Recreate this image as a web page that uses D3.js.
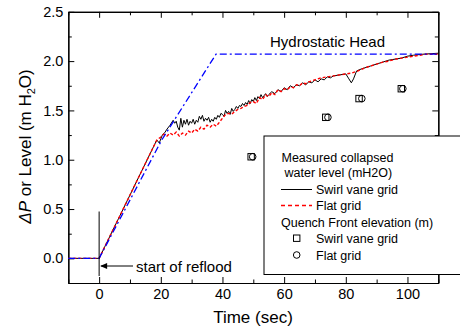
<!DOCTYPE html>
<html><head><meta charset="utf-8">
<script src="https://cdn.jsdelivr.net/npm/d3@7/dist/d3.min.js"></script>
<style>body{margin:0;background:#fff}svg{display:block;font-family:"Liberation Sans",Arial,sans-serif}</style>
</head><body><svg id="c" width="460" height="333"></svg>
<script>
// ---- data ----
const hydroT = [-10, 0, 20.3, 37.9, 110];
const hydroV = [0, 0, 1.2, 2.07, 2.07];

const swirlT = [-10,0,18.7,19.5,20.5,21.4,22,23,24,24.5,25,25.5,26,26.5,27,27.5,28,28.5,29,29.5,30,30.5,31,31.5,32,32.5,33,33.5,34,34.5,35,35.5,36,36.5,37,37.5,38,38.5,39,39.5,40,40.5,41,41.5,42,42.5,43,43.5,44,44.5,45,45.5,46,46.5,47,47.5,48,48.5,49,49.5,50,50.5,51,51.5,52,52.5,53,53.5,54,54.5,55,56,57,58,59,60,61,62,63,64,65,66,67,68,69,70,71,72,73,74,75,76,78,80,81,81.8,82.5,83.5,85,88,90,92,94,96,98,100,102,105,110];
const swirlV = [0,0,1.2,1.17,1.25,1.28,1.31,1.35,1.40,1.37,1.39,1.33,1.30,1.42,1.33,1.40,1.36,1.41,1.35,1.39,1.37,1.41,1.36,1.40,1.38,1.44,1.41,1.45,1.39,1.42,1.40,1.43,1.38,1.41,1.39,1.43,1.41,1.45,1.43,1.47,1.46,1.44,1.50,1.47,1.49,1.46,1.52,1.49,1.51,1.54,1.52,1.55,1.54,1.57,1.55,1.58,1.56,1.60,1.57,1.61,1.59,1.63,1.60,1.64,1.62,1.66,1.63,1.65,1.67,1.64,1.66,1.69,1.67,1.71,1.69,1.73,1.71,1.75,1.73,1.76,1.75,1.78,1.76,1.79,1.78,1.81,1.79,1.82,1.81,1.84,1.83,1.85,1.86,1.87,1.82,1.78,1.82,1.90,1.92,1.95,1.97,1.99,2.01,2.02,2.03,2.05,2.06,2.07,2.08];

const flatT = [-10,0,18.7,20,21,22,23,24,25,26,27,28,29,30,31,32,33,34,35,36,37,38,39,40,41,42,43,44,45,46,47,48,49,50,51,52,53,54,55,56,57,58,59,60,61,62,63,64,65,66,67,68,70,72,74,76,78,80,82,84,86,88,90,92,94,96,98,100,102,104,106,110];
const flatV = [0,0,1.2,1.23,1.26,1.24,1.27,1.25,1.28,1.24,1.27,1.25,1.29,1.27,1.31,1.29,1.33,1.31,1.35,1.33,1.36,1.34,1.38,1.42,1.46,1.47,1.46,1.49,1.51,1.52,1.54,1.55,1.58,1.59,1.57,1.63,1.61,1.66,1.64,1.68,1.66,1.71,1.69,1.72,1.71,1.74,1.73,1.76,1.75,1.78,1.77,1.79,1.81,1.83,1.84,1.85,1.86,1.87,1.88,1.90,1.93,1.95,1.97,1.99,2.00,2.02,2.03,2.04,2.05,2.06,2.07,2.07];

const qfSwirlT = [49.3, 73.5, 84.3, 98.0];
const qfFlatT  = [49.8, 74.2, 85.2, 98.5];
const qfV      = [1.03, 1.43, 1.62, 1.72];

const xMajor = [0, 20, 40, 60, 80, 100];
const yMajor = [0.0, 0.5, 1.0, 1.5, 2.0, 2.5];

// ---- layout ----
const svg = d3.select("#c");
const L = 68.3, R = 438.3, T = 11.8, B = 283;
const x = d3.scaleLinear().domain([-10, 110]).range([L, R]);
const y = d3.scaleLinear().domain([-0.25, 2.5]).range([B, T]);

const xMinor = d3.range(-10, 111, 10).filter(v => !xMajor.includes(v));
const yMinor = d3.range(-0.25, 2.51, 0.25).map(v => +v.toFixed(2)).filter(v => !yMajor.includes(v));

function styleAxis(g){ g.select(".domain").attr("stroke","#000").attr("stroke-width",1.2);
  g.selectAll(".tick line").attr("stroke","#000").attr("stroke-width",1);
  g.selectAll("text").attr("fill","#000").style("font-size","14.5px").style("font-family",'"Liberation Sans",Arial,sans-serif'); }

// bottom
svg.append("g").attr("transform",`translate(0,${B})`)
  .call(d3.axisBottom(x).tickValues(xMajor).tickFormat(d3.format("d")).tickSizeInner(-6).tickSizeOuter(0).tickPadding(6)).call(styleAxis);
svg.append("g").attr("transform",`translate(0,${B})`)
  .call(d3.axisBottom(x).tickValues(xMinor).tickFormat("").tickSizeInner(-3.5).tickSizeOuter(0)).call(styleAxis);
// top
svg.append("g").attr("transform",`translate(0,${T})`)
  .call(d3.axisTop(x).tickValues(xMajor).tickFormat("").tickSizeInner(-6).tickSizeOuter(0)).call(styleAxis);
svg.append("g").attr("transform",`translate(0,${T})`)
  .call(d3.axisTop(x).tickValues(xMinor).tickFormat("").tickSizeInner(-3.5).tickSizeOuter(0)).call(styleAxis);
// left
svg.append("g").attr("transform",`translate(${L},0)`)
  .call(d3.axisLeft(y).tickValues(yMajor).tickFormat(d3.format(".1f")).tickSizeInner(-6).tickSizeOuter(0).tickPadding(5)).call(styleAxis);
svg.append("g").attr("transform",`translate(${L},0)`)
  .call(d3.axisLeft(y).tickValues(yMinor).tickFormat("").tickSizeInner(-3.5).tickSizeOuter(0)).call(styleAxis);
// right
svg.append("g").attr("transform",`translate(${R},0)`)
  .call(d3.axisRight(y).tickValues(yMajor).tickFormat("").tickSizeInner(-6).tickSizeOuter(0)).call(styleAxis);
svg.append("g").attr("transform",`translate(${R},0)`)
  .call(d3.axisRight(y).tickValues(yMinor).tickFormat("").tickSizeInner(-3.5).tickSizeOuter(0)).call(styleAxis);

// ---- lines ----
const line = d3.line().x(d => x(d[0])).y(d => y(d[1]));
svg.append("path").datum(d3.zip(swirlT, swirlV)).attr("d", line)
  .attr("fill","none").attr("stroke","#000").attr("stroke-width",1);
svg.append("path").datum(d3.zip(flatT, flatV)).attr("d", line)
  .attr("fill","none").attr("stroke","#ff0000").attr("stroke-width",1.4).attr("stroke-dasharray","3,2");
svg.append("path").datum(d3.zip(hydroT, hydroV)).attr("d", line)
  .attr("fill","none").attr("stroke","#0000ff").attr("stroke-width",1.3).attr("stroke-dasharray","7,3,2,3");

// quench front markers
svg.append("g").selectAll("rect").data(d3.zip(qfSwirlT, qfV)).join("rect")
  .attr("x", d => x(d[0]) - 3.2).attr("y", d => y(d[1]) - 3.2).attr("width",6.4).attr("height",6.4)
  .attr("fill","none").attr("stroke","#000").attr("stroke-width",1);
svg.append("g").selectAll("circle").data(d3.zip(qfFlatT, qfV)).join("circle")
  .attr("cx", d => x(d[0])).attr("cy", d => y(d[1])).attr("r",3.3)
  .attr("fill","none").attr("stroke","#000").attr("stroke-width",1);

// Hydrostatic Head label
svg.append("text").attr("x",270).attr("y",46.5).style("font-size","15px").text("Hydrostatic Head");

// start of reflood marker
svg.append("line").attr("x1",x(0)).attr("x2",x(0)).attr("y1",211.5).attr("y2",276).attr("stroke","#000").attr("stroke-width",1);
svg.append("line").attr("x1",133).attr("x2",x(0)+2).attr("y1",266).attr("y2",266).attr("stroke","#000").attr("stroke-width",1);
svg.append("path").attr("d",`M${x(0)+1},266 l7,-3 l0,6 z`).attr("fill","#000");
svg.append("text").attr("x",136).attr("y",271.5).style("font-size","15px").text("start of reflood");

// ---- legend ----
const lg = svg.append("g");
lg.append("rect").attr("x",264).attr("y",136).attr("width",220).attr("height",138.5)
  .attr("fill","#fff").attr("stroke","#000").attr("stroke-width",1);
const fs = "12.5px";
lg.append("text").attr("x",281.5).attr("y",161.5).style("font-size",fs).text("Measured collapsed");
lg.append("text").attr("x",284.5).attr("y",177).style("font-size",fs).text("water level (mH2O)");
lg.append("line").attr("x1",281).attr("x2",312).attr("y1",189.5).attr("y2",189.5).attr("stroke","#000").attr("stroke-width",1);
lg.append("text").attr("x",316).attr("y",193.5).style("font-size",fs).text("Swirl vane grid");
lg.append("line").attr("x1",281).attr("x2",312).attr("y1",205.5).attr("y2",205.5).attr("stroke","#ff0000").attr("stroke-width",1.3).attr("stroke-dasharray","4,3");
lg.append("text").attr("x",316).attr("y",209.5).style("font-size",fs).text("Flat grid");
lg.append("text").attr("x",281).attr("y",226.5).style("font-size",fs).text("Quench Front elevation (m)");
lg.append("rect").attr("x",293.5).attr("y",235).attr("width",6.4).attr("height",6.4).attr("fill","none").attr("stroke","#000");
lg.append("text").attr("x",316).attr("y",242.5).style("font-size",fs).text("Swirl vane grid");
lg.append("circle").attr("cx",296.7).attr("cy",255).attr("r",3.3).attr("fill","none").attr("stroke","#000");
lg.append("text").attr("x",316).attr("y",259.5).style("font-size",fs).text("Flat grid");

// ---- axis titles ----
svg.append("text").attr("x",253).attr("y",323).attr("text-anchor","middle").style("font-size","17px").text("Time (sec)");
const yt = svg.append("text").attr("transform","translate(31,146.5) rotate(-90)").attr("text-anchor","middle").style("font-size","17px");
yt.append("tspan").text("Δ").style("font-style","italic");
yt.append("tspan").text("P").style("font-style","italic");
yt.append("tspan").text(" or Level (m H");
yt.append("tspan").text("2").style("font-size","11px").attr("dy",4);
yt.append("tspan").text("O)").attr("dy",-4);
</script></body></html>
